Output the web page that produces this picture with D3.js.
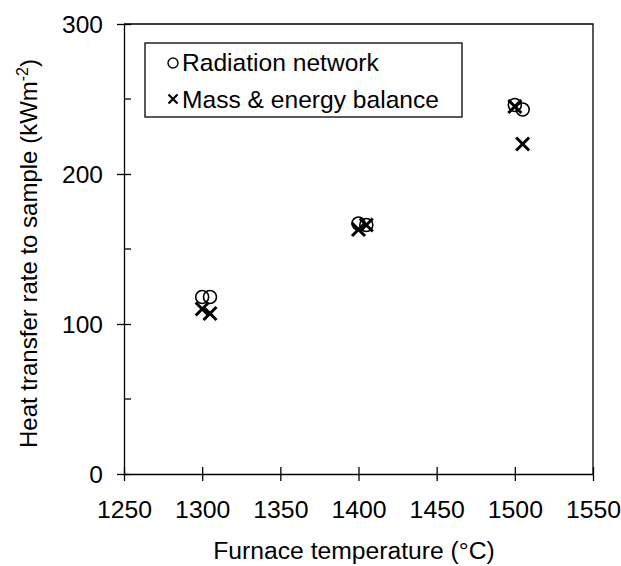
<!DOCTYPE html>
<html>
<head>
<meta charset="utf-8">
<script src="https://cdn.jsdelivr.net/npm/d3@7"></script>
<style>
  body { margin: 0; background: #fff; }
  text { font-family: "Liberation Sans", Arial, sans-serif; fill: #000; }
</style>
</head>
<body>
<div id="chart"></div>
<script>
const temps = [1300, 1305, 1400, 1405, 1500, 1505];
const radiation = [118, 118, 167, 166, 246, 243];
const massEnergy = [110, 107, 163, 166, 245, 220];
const xTicks = [1250, 1300, 1350, 1400, 1450, 1500, 1550];
const yTicks = [0, 100, 200, 300];
const yMinor = [50, 150, 250];

const W = 621, H = 566;
const plotL = 124, plotR = 593, plotT = 24, plotB = 474;

const svg = d3.select('#chart').append('svg')
  .attr('width', W)
  .attr('height', H);

const x = d3.scaleLinear().domain([1250, 1550]).range([plotL, plotR]);
const y = d3.scaleLinear().domain([0, 300]).range([plotB, plotT]);

// frame (top + right)
svg.append('path')
  .attr('d', `M${plotL},${plotT}H${plotR}V${plotB}`)
  .attr('fill', 'none')
  .attr('stroke', '#000')
  .attr('stroke-width', 1.3);

// x axis
const xAxis = svg.append('g')
  .attr('transform', `translate(0,${plotB})`)
  .call(d3.axisBottom(x).tickValues(xTicks).tickFormat(d3.format('d')).tickSizeOuter(0));
xAxis.select('.domain').attr('stroke-width', 1.3);
xAxis.selectAll('.tick line').attr('y1', -7).attr('y2', 7).attr('stroke-width', 1.3);
xAxis.selectAll('.tick text')
  .attr('y', 26)
  .attr('font-size', 24.8)
  .attr('font-family', '"Liberation Sans", Arial, sans-serif');

// y axis
const yAxis = svg.append('g')
  .attr('transform', `translate(${plotL},0)`)
  .call(d3.axisLeft(y).tickValues(yTicks).tickSizeOuter(0));
yAxis.select('.domain').attr('stroke-width', 1.3);
yAxis.selectAll('.tick line').attr('x1', 7).attr('x2', -7).attr('stroke-width', 1.3);
yAxis.selectAll('.tick text')
  .attr('x', -21)
  .attr('dy', '0.35em')
  .attr('font-size', 24.5)
  .attr('font-family', '"Liberation Sans", Arial, sans-serif');

// minor y ticks, inside only
svg.append('g').selectAll('line')
  .data(yMinor)
  .join('line')
  .attr('x1', plotL).attr('x2', plotL + 7)
  .attr('y1', d => y(d)).attr('y2', d => y(d))
  .attr('stroke', '#000')
  .attr('stroke-width', 1.3);

// axis titles
svg.append('text')
  .attr('x', 354)
  .attr('y', 559)
  .attr('text-anchor', 'middle')
  .attr('font-size', 24.7)
  .text('Furnace temperature (°C)');

const yTitle = svg.append('text')
  .attr('transform', 'translate(37,448) rotate(-90)')
  .attr('text-anchor', 'start')
  .attr('font-size', 24);
yTitle.append('tspan').text('Heat transfer rate to sample (kWm');
yTitle.append('tspan').attr('font-size', 16).attr('dy', -9).text('-2');
yTitle.append('tspan').attr('dy', 9).text(')');

// markers
const crossPath = s => `M${-s},${-s}L${s},${s}M${-s},${s}L${s},${-s}`;

svg.append('g').selectAll('circle')
  .data(temps.map((t, i) => [t, radiation[i]]))
  .join('circle')
  .attr('cx', d => x(d[0]))
  .attr('cy', d => y(d[1]))
  .attr('r', 6.5)
  .attr('fill', 'none')
  .attr('stroke', '#000')
  .attr('stroke-width', 1.6);

svg.append('g').selectAll('path')
  .data(temps.map((t, i) => [t, massEnergy[i]]))
  .join('path')
  .attr('transform', d => `translate(${x(d[0])},${y(d[1])})`)
  .attr('d', crossPath(6.5))
  .attr('fill', 'none')
  .attr('stroke', '#000')
  .attr('stroke-width', 3);

// legend
const lg = svg.append('g');
lg.append('rect')
  .attr('x', 145).attr('y', 43)
  .attr('width', 317).attr('height', 74)
  .attr('fill', '#fff')
  .attr('stroke', '#000')
  .attr('stroke-width', 1.3);
lg.append('circle')
  .attr('cx', 173).attr('cy', 63).attr('r', 5)
  .attr('fill', 'none').attr('stroke', '#000').attr('stroke-width', 1.4);
lg.append('text')
  .attr('x', 182).attr('y', 71)
  .attr('font-size', 24.6)
  .text('Radiation network');
lg.append('path')
  .attr('transform', 'translate(173,99)')
  .attr('d', crossPath(4.5))
  .attr('stroke', '#000').attr('stroke-width', 2.2);
lg.append('text')
  .attr('x', 182).attr('y', 108)
  .attr('font-size', 24.6)
  .text('Mass & energy balance');
</script>
</body>
</html>
